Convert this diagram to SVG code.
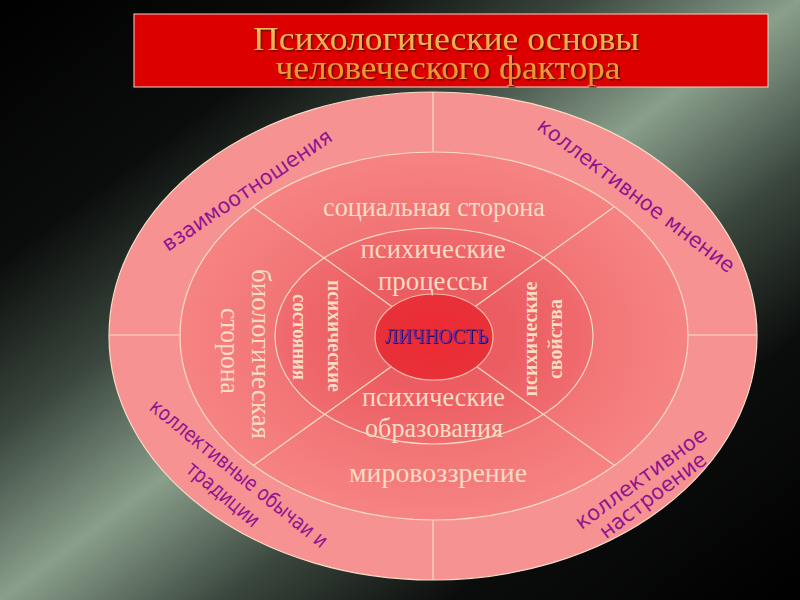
<svg xmlns="http://www.w3.org/2000/svg" width="800" height="600" viewBox="0 0 800 600">
  <defs>
    <linearGradient id="bg" x1="0" y1="0" x2="1" y2="1">
      <stop offset="0" stop-color="#000000"/>
      <stop offset="0.22" stop-color="#0b0d0c"/>
      <stop offset="0.36" stop-color="#3a463d"/>
      <stop offset="0.5" stop-color="#8a9f8c"/>
      <stop offset="0.64" stop-color="#3a463d"/>
      <stop offset="0.78" stop-color="#0b0d0c"/>
      <stop offset="1" stop-color="#000000"/>
    </linearGradient>
    <linearGradient id="titleText" x1="0" y1="0" x2="0" y2="1">
      <stop offset="0" stop-color="#f8c468"/>
      <stop offset="1" stop-color="#e68c2c"/>
    </linearGradient>
    <radialGradient id="gMid" cx="0.5" cy="0.5" r="0.5">
      <stop offset="0.6" stop-color="#f27474"/>
      <stop offset="1" stop-color="#f68383"/>
    </radialGradient>
    <radialGradient id="gInner" cx="0.5" cy="0.5" r="0.5">
      <stop offset="0.5" stop-color="#ec5d62"/>
      <stop offset="1" stop-color="#f06c6e"/>
    </radialGradient>
    <radialGradient id="gCore" cx="0.5" cy="0.5" r="0.5">
      <stop offset="0" stop-color="#ef2a33"/>
      <stop offset="1" stop-color="#e8313a"/>
    </radialGradient>
    <filter id="titleShadow" x="-5%" y="-20%" width="110%" height="140%">
      <feDropShadow dx="1.5" dy="1.5" stdDeviation="0.6" flood-color="#5a0a00" flood-opacity="0.9"/>
    </filter>
    <filter id="coreShadow" x="-5%" y="-20%" width="110%" height="140%">
      <feDropShadow dx="1" dy="1" stdDeviation="0.3" flood-color="#2a0a48" flood-opacity="1"/>
    </filter>
  </defs>
  <style>
    .ring { stroke: #f8dcc4; stroke-width: 1.2; }
    .sep { stroke: #f8dcc4; stroke-width: 1.2; fill: none; }
    .title { font-family: "Liberation Serif", "DejaVu Serif", serif; font-size: 34px; text-anchor: middle; fill: url(#titleText); filter: url(#titleShadow); }
    .inner { font-family: "Liberation Serif", "DejaVu Serif", serif; font-size: 27px; fill: #f8dcc4; text-anchor: middle; }
    .small { font-family: "Liberation Serif", "DejaVu Serif", serif; font-size: 22px; font-weight: bold; fill: #f8dcc4; text-anchor: middle; }
    .outer { font-family: "DejaVu Sans", "Liberation Sans", sans-serif; font-size: 21px; fill: #8e1590; text-anchor: middle; }
    .core { font-family: "Liberation Serif", "DejaVu Serif", serif; font-size: 20px; text-anchor: middle; fill: #6a2aa6; filter: url(#coreShadow); }
  </style>

  <rect x="0" y="0" width="800" height="600" fill="url(#bg)"/>

  <g id="title">
    <rect x="134" y="14" width="634" height="73" fill="#dc0000" stroke="#e8d8c8" stroke-width="1"/>
    <text class="title"><tspan x="446" y="50" textLength="386" lengthAdjust="spacingAndGlyphs">Психологические основы</tspan><tspan x="448" y="79" textLength="345" lengthAdjust="spacingAndGlyphs">человеческого фактора</tspan></text>
  </g>

  <g id="outer-ring">
    <ellipse class="ring" cx="433" cy="336" rx="324" ry="244" fill="#f79292"/>
  </g>
  <g id="middle-ring">
    <ellipse class="ring" cx="434" cy="336" rx="254" ry="184" fill="url(#gMid)"/>
  </g>
  <g id="inner-ring">
    <ellipse class="ring" cx="434" cy="336" rx="159" ry="108" fill="url(#gInner)"/>
  </g>

  <g id="connectors">
    <line class="sep" x1="433" y1="92" x2="433" y2="152"/>
    <line class="sep" x1="433" y1="520" x2="433" y2="580"/>
    <line class="sep" x1="110" y1="335" x2="180" y2="335"/>
    <line class="sep" x1="688" y1="335" x2="757" y2="335"/>
    <line class="sep" x1="253" y1="207" x2="433" y2="336"/>
    <line class="sep" x1="614" y1="207" x2="434" y2="336"/>
    <line class="sep" x1="614" y1="465" x2="434" y2="336"/>
    <line class="sep" x1="254" y1="465" x2="434" y2="336"/>
  </g>

  <g id="core">
    <ellipse cx="434" cy="337" rx="59" ry="43" fill="url(#gCore)" stroke="#f4b8a8" stroke-width="1.2"/>
    <text class="core" x="436.5" y="343" textLength="103" lengthAdjust="spacingAndGlyphs">ЛИЧНОСТЬ</text>
  </g>

  <g id="social">
    <text class="inner" x="434" y="216" textLength="222" lengthAdjust="spacingAndGlyphs">социальная сторона</text>
  </g>
  <g id="worldview">
    <text class="inner" x="438" y="482" textLength="178" lengthAdjust="spacingAndGlyphs">мировоззрение</text>
  </g>
  <g id="biological">
    <text class="inner" transform="translate(252,354) rotate(90)" textLength="170" lengthAdjust="spacingAndGlyphs">биологическая</text>
    <text class="inner" transform="translate(221,351) rotate(90)" textLength="86" lengthAdjust="spacingAndGlyphs">сторона</text>
  </g>
  <g id="processes">
    <text class="inner" x="433" y="258" textLength="145" lengthAdjust="spacingAndGlyphs">психические</text>
    <text class="inner" x="433" y="290" textLength="110" lengthAdjust="spacingAndGlyphs">процессы</text>
  </g>
  <g id="formations">
    <text class="inner" x="433.5" y="406" textLength="143" lengthAdjust="spacingAndGlyphs">психические</text>
    <text class="inner" x="434" y="437" textLength="138" lengthAdjust="spacingAndGlyphs">образования</text>
  </g>
  <g id="states">
    <text class="small" transform="translate(328,336) rotate(90)" textLength="112" lengthAdjust="spacingAndGlyphs">психические</text>
    <text class="small" transform="translate(293,337) rotate(90)" textLength="86" lengthAdjust="spacingAndGlyphs">состояния</text>
  </g>
  <g id="properties">
    <text class="small" transform="translate(537,339) rotate(-90)" textLength="115" lengthAdjust="spacingAndGlyphs">психические</text>
    <text class="small" transform="translate(562,339) rotate(-90)" textLength="80" lengthAdjust="spacingAndGlyphs">свойства</text>
  </g>

  <g id="relationships">
    <text class="outer" transform="translate(251,196) rotate(-34)" textLength="200" lengthAdjust="spacingAndGlyphs">взаимоотношения</text>
  </g>
  <g id="collective-opinion">
    <text class="outer" transform="translate(632,201) rotate(37)" textLength="241" lengthAdjust="spacingAndGlyphs">коллективное мнение</text>
  </g>
  <g id="collective-customs">
    <text class="outer" transform="translate(234.5,479) rotate(39)" textLength="222" lengthAdjust="spacingAndGlyphs">коллективные обычаи и</text>
    <text class="outer" transform="translate(218.5,499.5) rotate(40)" textLength="89" lengthAdjust="spacingAndGlyphs">традиции</text>
  </g>
  <g id="collective-mood">
    <text class="outer" transform="translate(645,484) rotate(-36)" textLength="157" lengthAdjust="spacingAndGlyphs">коллективное</text>
    <text class="outer" transform="translate(657,501) rotate(-37)" textLength="128" lengthAdjust="spacingAndGlyphs">настроение</text>
  </g>
</svg>
